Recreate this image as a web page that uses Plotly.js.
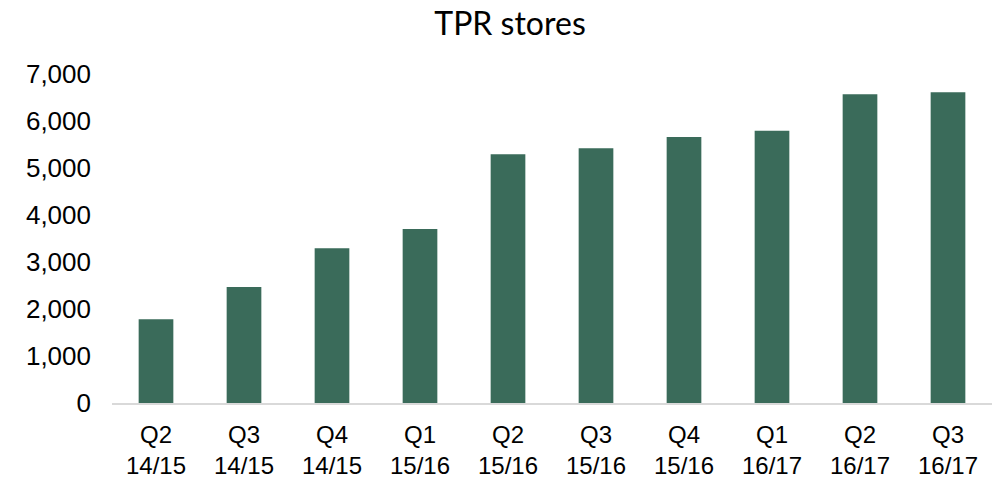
<!DOCTYPE html>
<html>
<head>
<meta charset="utf-8">
<script src="https://cdn.plot.ly/plotly-3.0.1.min.js"></script>
<style>html,body{margin:0;padding:0;background:#fff;}#chart{width:996px;height:479px;}</style>
</head>
<body>
<div id="chart"></div>
<script>
const categories = ["Q2<br>14/15","Q3<br>14/15","Q4<br>14/15","Q1<br>15/16","Q2<br>15/16","Q3<br>15/16","Q4<br>15/16","Q1<br>16/17","Q2<br>16/17","Q3<br>16/17"];
const storeCounts = [1780, 2470, 3290, 3700, 5290, 5420, 5660, 5790, 6570, 6610];
const yTickValues = [0, 1000, 2000, 3000, 4000, 5000, 6000, 7000];
const chartTitle = "TPR stores";

const trace = {
  type: "bar",
  x: categories,
  y: storeCounts,
  marker: {color: "#3a6b5a", line: {width: 0}},
  hoverinfo: "x+y"
};

const layout = {
  width: 996,
  height: 479,
  paper_bgcolor: "#ffffff",
  plot_bgcolor: "#ffffff",
  margin: {l: 112, r: 4, t: 74, b: 76},
  bargap: 0.606,
  showlegend: false,
  title: {
    text: chartTitle,
    font: {family: "Lato, 'Open Sans', sans-serif", size: 32, color: "#000000"},
    x: 510 / 996,
    xref: "container",
    xanchor: "center",
    y: 1 - 24 / 479,
    yref: "container",
    yanchor: "middle"
  },
  xaxis: {
    type: "category",
    showgrid: false,
    zeroline: false,
    showline: true,
    linecolor: "#d9d9d9",
    linewidth: 2,
    ticks: "",
    ticklabelstandoff: 9,
    tickfont: {family: "'Liberation Sans', Arial, sans-serif", size: 24, color: "#000000"}
  },
  yaxis: {
    range: [0, 7000],
    tickvals: yTickValues,
    tickformat: ",d",
    showgrid: false,
    zeroline: false,
    showline: false,
    ticks: "",
    ticklabelstandoff: 20,
    tickfont: {family: "'Liberation Sans', Arial, sans-serif", size: 26, color: "#000000"}
  },
  font: {family: "'Liberation Sans', Arial, sans-serif", color: "#000000"}
};

Plotly.newPlot("chart", [trace], layout, {displayModeBar: false, staticPlot: true});
</script>
</body>
</html>
